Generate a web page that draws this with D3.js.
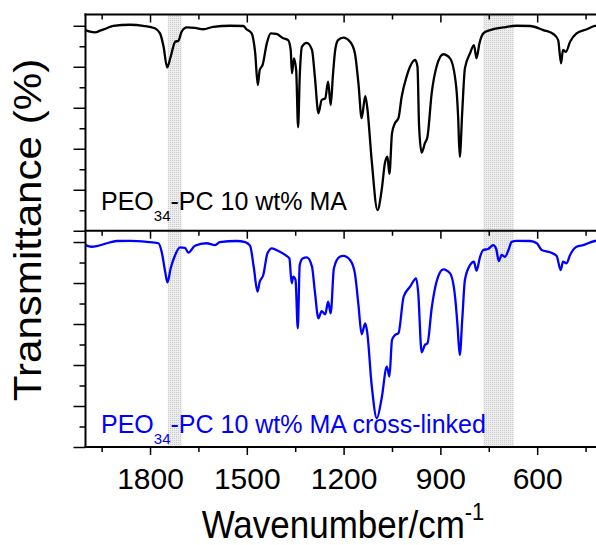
<!DOCTYPE html>
<html>
<head>
<meta charset="utf-8">
<script src="https://cdn.jsdelivr.net/npm/d3@7"></script>
<style>
body { margin: 0; background: #fff; }
svg { display: block; font-family: "Liberation Sans", Arial, sans-serif; }
</style>
</head>
<body>
<svg width="596" height="545"></svg>
<script>
// wavenumber (cm-1) and transmittance
var topWn = [2000,1986,1970,1955,1934,1914,1862,1821,1785,1769,1758,1747,1736,1722,1712,1702,1686,1661,1635,1604,
  1552,1511,1501,1485,1474,1466,1460,1451,1438,1426,1408,1387,1372,1364,1360,1354,1347,1341,1336,1329,
  1314,1298,1289,1278,1268,1257,1248,1240,1233,1226,1217,1201,1180,1165,1154,1144,1133,1127,1113,1095,
  1082,1072,1064,1058,1050,1041,1030,1020,1005,978,971,966,958,948,940,927,912,891,870,851,
  845,840,832,824,808,796,788,779,767,746,705,664,622,581,550,535,526,520,511,498,
  478,446,421,400];
var topT = [97.9,97.1,96.8,97.6,98.8,100.0,100.5,100.0,98.8,96.3,89.8,79.7,84.9,92.2,92.7,97.1,99.2,99.0,98.3,99.5,
  100.0,99.9,98.3,96.3,86.6,71.1,78.4,80.9,91.4,96.3,96.0,93.9,93.0,88.2,76.8,84.1,78.4,50.5,75.1,89.8,
  91.7,88.2,75.1,57.3,63.8,64.6,72.7,61.3,76.0,88.2,93.0,94.2,92.2,86.6,71.9,54.9,65.7,60.5,34.5,10.1,
  19.9,32.9,36.1,27.7,47.5,52.4,54.9,65.4,75.1,83.3,80.0,50.8,38.1,42.7,45.9,67.0,80.0,86.1,84.1,70.3,
  55.6,36.1,58.9,79.2,86.6,90.6,84.1,91.4,96.3,97.9,99.2,100.0,99.9,97.9,96.0,93.0,81.7,88.2,87.3,92.2,
  96.3,98.3,99.9,100.1];

var botWn = [2000,1981,1965,1934,1903,1862,1810,1774,1764,1753,1746,1736,1722,1707,1692,1681,1661,1625,1598,1584,
  1532,1505,1490,1478,1467,1460,1449,1436,1422,1402,1381,1368,1361,1356,1349,1342,1336,1327,1314,1298,
  1289,1278,1268,1257,1248,1240,1230,1212,1201,1180,1165,1154,1144,1133,1127,1113,1097,1082,1066,1058,
  1050,1041,1030,1014,994,975,969,958,948,940,927,912,891,870,854,847,840,832,824,808,
  796,788,777,767,752,736,727,719,710,700,689,679,664,622,601,586,560,540,527,520,
  509,498,478,457,421,400];
var botT = [98.5,97.7,98.0,99.4,100.5,100.6,100.1,99.4,95.3,85.5,80.3,87.2,93.7,97.4,97.2,94.8,98.2,99.4,98.5,99.9,
  100.5,99.9,98.2,87.2,75.8,80.6,83.9,94.5,96.9,95.6,93.7,92.0,79.9,83.1,81.5,57.9,88.8,92.0,92.5,88.0,
  75.8,62.8,66.3,64.7,70.9,65.2,87.2,92.8,93.2,91.2,84.7,69.3,55.0,60.3,56.2,30.2,14.0,23.8,39.2,34.3,
  52.2,54.6,55.5,73.3,78.2,82.3,75.8,46.2,49.8,50.6,67.7,80.6,86.7,84.7,72.5,59.5,44.9,62.8,81.5,88.8,
  90.4,86.0,92.8,96.1,96.6,98.5,96.6,90.7,93.7,92.8,96.1,100.1,100.6,100.5,99.4,96.1,95.0,93.3,86.3,90.4,
  89.6,93.7,97.7,98.5,100.5,100.7];

var bands = [[1745, 1702], [767, 672]];
var xMajor = [1800, 1500, 1200, 900, 600];
var xMinor = [1950, 1650, 1350, 1050, 750, 450];
var yMajor = [0, 20, 40, 60, 80, 100];
var yMinor = [10, 30, 50, 70, 90];

var svg = d3.select("svg");
var W = 596;
var plotLeft = 85.5, plotRight = 601.7, plotTop = 14.5, plotMid = 230.75, plotBottom = 447;

var x = d3.scaleLinear().domain([2000, 400]).range([plotLeft, plotRight]);
var yTop = d3.scaleLinear().domain([0, 105.5]).range([plotMid, plotTop]);
var yBot = d3.scaleLinear().domain([0, 105.5]).range([plotBottom, plotMid]);

// dotted grey fill for the shaded bands
var defs = svg.append("defs");
var pat = defs.append("pattern").attr("id", "dots")
    .attr("width", 2).attr("height", 2).attr("patternUnits", "userSpaceOnUse");
pat.append("rect").attr("width", 2).attr("height", 2).attr("fill", "#ededed");
pat.append("rect").attr("width", 1).attr("height", 1).attr("fill", "#cbcbcb");

defs.append("clipPath").attr("id", "clip").append("rect")
    .attr("x", plotLeft).attr("y", plotTop)
    .attr("width", plotRight - plotLeft).attr("height", plotBottom - plotTop);

svg.selectAll("rect.band").data(bands).enter().append("rect")
    .attr("class", "band")
    .attr("x", d => x(d[0]))
    .attr("width", d => x(d[1]) - x(d[0]))
    .attr("y", plotTop)
    .attr("height", plotBottom - plotTop)
    .attr("fill", "url(#dots)");

function drawSpectrum(wn, t, y, color) {
    var line = d3.line()
        .x(i => x(wn[i]))
        .y(i => y(t[i]))
        .curve(d3.curveMonotoneX);
    svg.append("path")
        .attr("d", line(d3.range(wn.length)))
        .attr("clip-path", "url(#clip)")
        .attr("fill", "none")
        .attr("stroke", color)
        .attr("stroke-width", 2.3)
        .attr("stroke-linejoin", "round");
}
drawSpectrum(topWn, topT, yTop, "#000000");
drawSpectrum(botWn, botT, yBot, "#0000ff");

function panelLabel(yBase, color, tail) {
    var t = svg.append("text")
        .attr("x", 101).attr("y", yBase)
        .attr("fill", color)
        .style("font-size", "25px");
    t.append("tspan").text("PEO");
    t.append("tspan").attr("dy", 11).style("font-size", "15px").text("34");
    t.append("tspan").attr("dy", -11).text(tail);
}
panelLabel(210, "#000000", "-PC 10 wt% MA");
panelLabel(433, "#0000ff", "-PC 10 wt% MA cross-linked");

// axes
function styleAxis(g) {
    g.select(".domain").remove();
    g.selectAll("line").attr("stroke", "#000").attr("stroke-width", 1.5);
    g.selectAll("text").attr("fill", "#000")
        .style("font-size", "30px")
        .style("font-family", "'Liberation Sans', Arial, sans-serif");
}

svg.append("g").attr("transform", "translate(0," + plotBottom + ")")
    .call(d3.axisBottom(x).tickValues(xMajor).tickFormat(d3.format("d"))
        .tickSizeInner(8).tickSizeOuter(0).tickPadding(12.5))
    .call(styleAxis);
svg.append("g").attr("transform", "translate(0," + plotBottom + ")")
    .call(d3.axisBottom(x).tickValues(xMinor).tickSize(5).tickFormat(""))
    .call(styleAxis);

[plotTop, plotMid].forEach(function(yy) {
    svg.append("g").attr("transform", "translate(0," + yy + ")")
        .call(d3.axisBottom(x).tickValues(xMajor).tickSize(8).tickFormat(""))
        .call(styleAxis);
    svg.append("g").attr("transform", "translate(0," + yy + ")")
        .call(d3.axisBottom(x).tickValues(xMinor).tickSize(5).tickFormat(""))
        .call(styleAxis);
});

[yTop, yBot].forEach(function(y) {
    svg.append("g").attr("transform", "translate(" + plotLeft + ",0)")
        .call(d3.axisLeft(y).tickValues(yMajor).tickSize(12).tickFormat(""))
        .call(styleAxis);
    svg.append("g").attr("transform", "translate(" + plotLeft + ",0)")
        .call(d3.axisLeft(y).tickValues(yMinor).tickSize(6).tickFormat(""))
        .call(styleAxis);
});

// frame
var frame = [
    [plotLeft, plotTop, plotLeft, plotBottom],
    [plotLeft, plotTop, W, plotTop],
    [plotLeft, plotMid, W, plotMid],
    [plotLeft, plotBottom, W, plotBottom]
];
svg.selectAll("line.frame").data(frame).enter().append("line")
    .attr("class", "frame")
    .attr("x1", d => d[0]).attr("y1", d => d[1])
    .attr("x2", d => d[2]).attr("y2", d => d[3])
    .attr("stroke", "#000").attr("stroke-width", 2)
    .attr("stroke-linecap", "square");

// axis titles
var xt = svg.append("text")
    .attr("transform", "translate(343,538) scale(1,1.1)")
    .attr("text-anchor", "middle")
    .style("font-size", "35px");
xt.append("tspan").text("Wavenumber/cm");
xt.append("tspan").attr("dy", -16).style("font-size", "22px").text("-1");

svg.append("text")
    .attr("transform", "translate(41,230) rotate(-90) scale(1.08,1)")
    .attr("text-anchor", "middle")
    .style("font-size", "39px")
    .text("Transmittance (%)");
</script>
</body>
</html>
